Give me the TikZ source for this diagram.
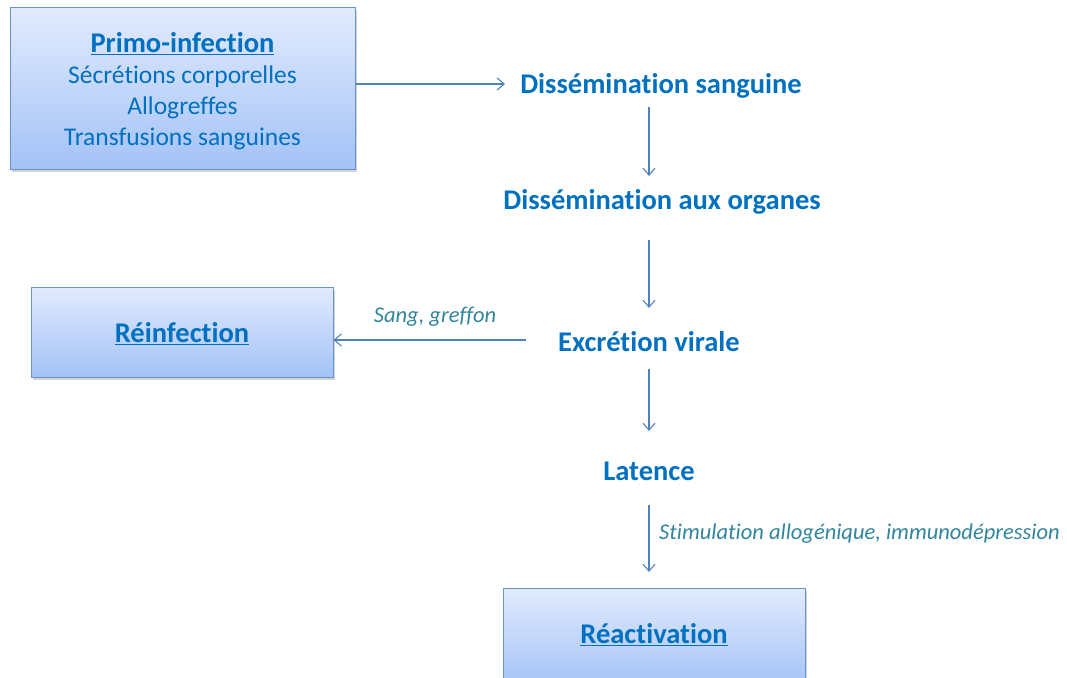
\documentclass[tikz,border=0pt]{standalone}
\usepackage{fontspec}
\setmainfont{Carlito}[Ligatures=NoCommon]
\usetikzlibrary{arrows.meta,shadows}
\definecolor{txtblue}{HTML}{0070C0}
\definecolor{lbl}{HTML}{31859C}
\definecolor{edge}{HTML}{4F81BD}
\definecolor{boxtop}{HTML}{E2EBFD}
\definecolor{boxbot}{HTML}{A3C2F7}
\definecolor{boxline}{HTML}{6A93CB}
\begin{document}
\begin{tikzpicture}[x=1pt,y=-1pt,
  box/.style={draw=boxline, line width=1pt, top color=boxtop, bottom color=boxbot,
    drop shadow={shadow xshift=2pt, shadow yshift=-2.5pt, opacity=0.25, fill=black!70},
    inner sep=0pt},
  boxtext/.style={text=txtblue, align=center, inner sep=0pt, font=\fontsize{25.5}{31}\selectfont},
  title/.style={text=txtblue, inner sep=0pt, font=\bfseries\fontsize{28.5}{31}\selectfont},
  stage/.style={text=txtblue, font=\bfseries\fontsize{28.5}{32}\selectfont, inner sep=0pt},
  flow/.style={draw=edge, line width=1.1pt, -{Straight Barb[length=7pt,width=12pt]}},
  note/.style={text=lbl, font=\itshape\fontsize{22.5}{26}\selectfont, inner sep=0pt}]
\useasboundingbox (0,0) rectangle (1067,677);
\clip (0,0) rectangle (1067,677);

% framed entry points
\node[box, minimum width=345pt, minimum height=161pt] (primo) at (182.5,88.5) {};
\node[boxtext] (primotxt) at (182.5,91.5)
  {{\bfseries\fontsize{28.5}{31}\selectfont\underline{Primo-infection}}\\
   Sécrétions corporelles\\ Allogreffes\\ Transfusions sanguines};
\node[box, minimum width=302pt, minimum height=90pt] (reinf) at (182,332) {};
\node[title] (reinftxt) at (182,334) {\underline{Réinfection}};
\node[box, minimum width=302pt, minimum height=100pt] (react) at (654,638) {};
\node[title] (reacttxt) at (654,635) {\underline{Réactivation}};

% stages of the infection
\node[stage] (sang) at (661,86) {Dissémination sanguine};
\node[stage] (org) at (662,202) {Dissémination aux organes};
\node[stage] (excr) at (649,342) {Excrétion virale};
\node[stage] (lat) at (649,471) {Latence};

% connectors
\coordinate (a1) at (505,84);
\draw[flow] (primo.east |- a1) -- (a1);
\draw[flow] (649,107) -- (649,176);
\draw[flow] (649,240) -- (649,308);
\coordinate (r1) at (526,340);
\draw[flow] (r1) -- (reinf.east |- r1);
\node[note] (sg) at (435,317) {Sang, greffon};
\draw[flow] (649,369) -- (649,431);
\draw[flow] (649,505) -- (649,572);
\node[note, anchor=west] (stim) at (659,534) {Stimulation allogénique, immunodépression};
\end{tikzpicture}
\end{document}
